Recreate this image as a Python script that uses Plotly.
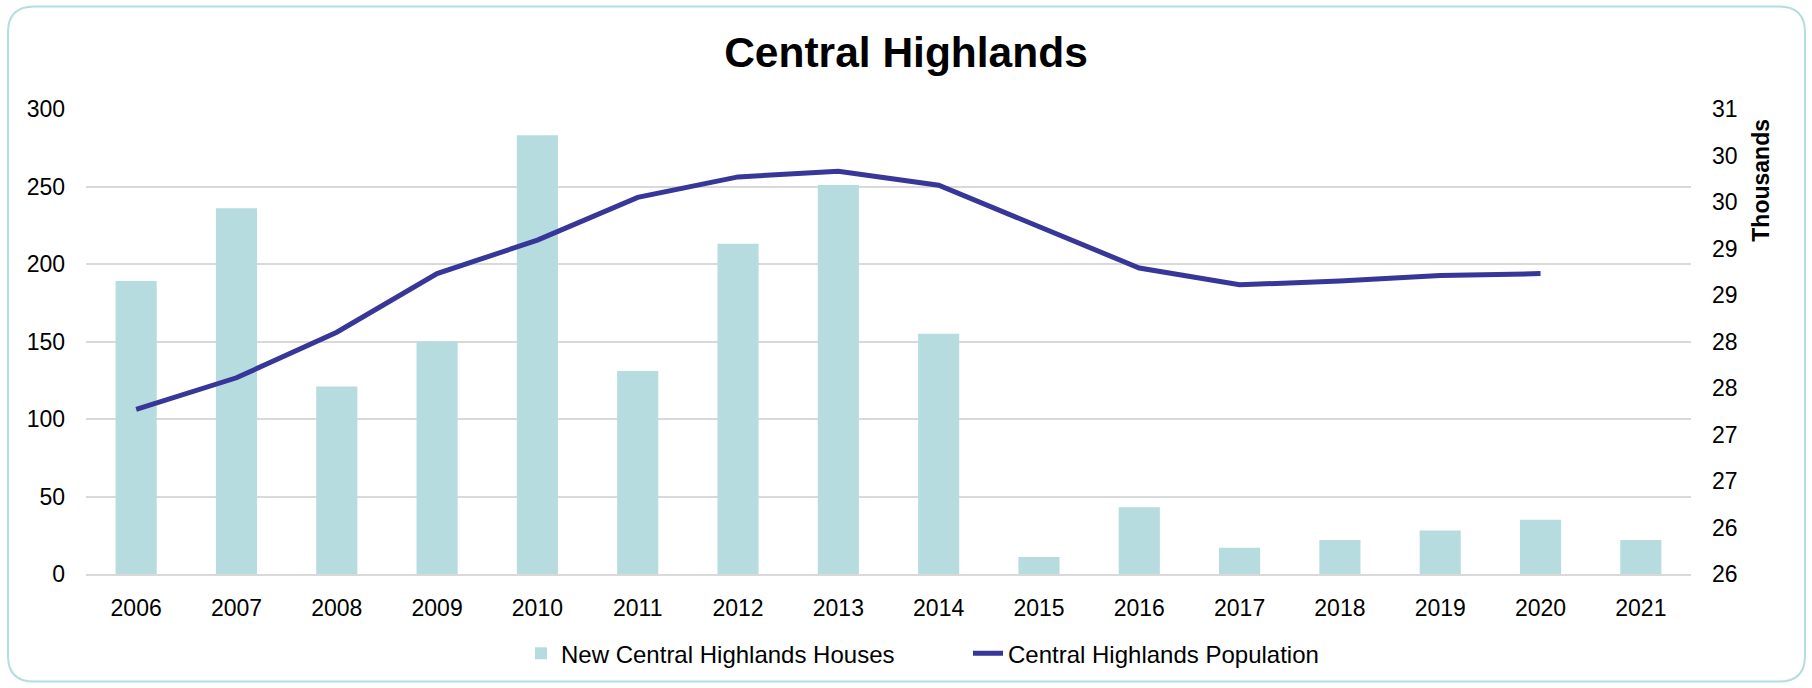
import plotly.graph_objects as go

years = [str(y) for y in range(2006, 2022)]
houses = [189, 236, 121, 150, 283, 131, 213, 251, 155, 11, 43, 17, 22, 28, 35, 22]
population_k = [27.77, 28.11, 28.60, 29.23, 29.59, 30.05, 30.27, 30.33, 30.18,
                29.74, 29.29, 29.11, 29.15, 29.21, 29.23, None]
right_tickvals = [26, 26.5, 27, 27.5, 28, 28.5, 29, 29.5, 30, 30.5, 31]
right_ticktext = ["26", "26", "27", "27", "28", "28", "29", "29", "30", "30", "31"]

W, H = 1812, 688
ML, MR, MT, MB = 86, 121, 109, 112
PW, PH = W - ML - MR, H - MT - MB

def px(x):
    return (x - ML) / PW

def py(y):
    return (H - MB - y) / PH

FONT = "Arial, Liberation Sans, sans-serif"

fig = go.Figure()
fig.add_trace(go.Bar(
    x=years, y=houses, name="New Central Highlands Houses",
    marker=dict(color="#B7DCE0", line=dict(width=0)),
    yaxis="y",
))
fig.add_trace(go.Scatter(
    x=years, y=population_k, name="Central Highlands Population",
    mode="lines", line=dict(color="#373699", width=5),
    yaxis="y2",
))

# rounded border
x0, x1, y0, y1, r = 8, 1805, 6, 684, 26
path = (
    f"M {px(x0 + r)},{py(y0)} L {px(x1 - r)},{py(y0)} "
    f"Q {px(x1)},{py(y0)} {px(x1)},{py(y0 + r)} "
    f"L {px(x1)},{py(y1 - r)} Q {px(x1)},{py(y1)} {px(x1 - r)},{py(y1)} "
    f"L {px(x0 + r)},{py(y1)} Q {px(x0)},{py(y1)} {px(x0)},{py(y1 - r)} "
    f"L {px(x0)},{py(y0 + r)} Q {px(x0)},{py(y0)} {px(x0 + r)},{py(y0)} Z"
)

fig.update_layout(
    width=W, height=H,
    margin=dict(l=ML, r=MR, t=MT, b=MB),
    paper_bgcolor="white", plot_bgcolor="white",
    font=dict(family=FONT, size=23, color="#000000"),
    title=dict(text="<b>Central Highlands</b>", x=0.5, xanchor="center",
               y=1 - 52 / H, yanchor="middle", yref="container",
               font=dict(size=42.5, family=FONT, color="#000000")),
    bargap=0.59,
    xaxis=dict(type="category", showgrid=False, showline=True,
               linecolor="#D9D9D9", linewidth=2, ticks="",
               tickfont=dict(size=23), ticklabelstandoff=12),
    yaxis=dict(range=[0, 300], dtick=50, showgrid=True, gridcolor="#D9D9D9",
               gridwidth=2, zeroline=False, showline=False, ticks="",
               tickfont=dict(size=23), ticklabelstandoff=20),
    yaxis2=dict(range=[26, 31], overlaying="y", side="right",
                tickvals=right_tickvals, ticktext=right_ticktext,
                showgrid=False, zeroline=False, showline=False, ticks="",
                tickfont=dict(size=23), ticklabelstandoff=20),
    legend=dict(orientation="h", x=px(521), xanchor="left", y=py(656),
                yanchor="middle", font=dict(size=24), bgcolor="rgba(0,0,0,0)",
                itemwidth=30, entrywidth=402, entrywidthmode="pixels"),
    showlegend=True,
    shapes=[dict(type="path", xref="paper", yref="paper", path=path,
                 line=dict(color="#B4DDE1", width=2), layer="below")],
    annotations=[dict(text="<b>Thousands</b>", textangle=-90, xref="paper",
                      yref="paper", x=px(1761), y=py(181), xanchor="center",
                      yanchor="middle", showarrow=False,
                      font=dict(size=23, family=FONT, color="#000000"))],
)

fig.write_html("out.html")
